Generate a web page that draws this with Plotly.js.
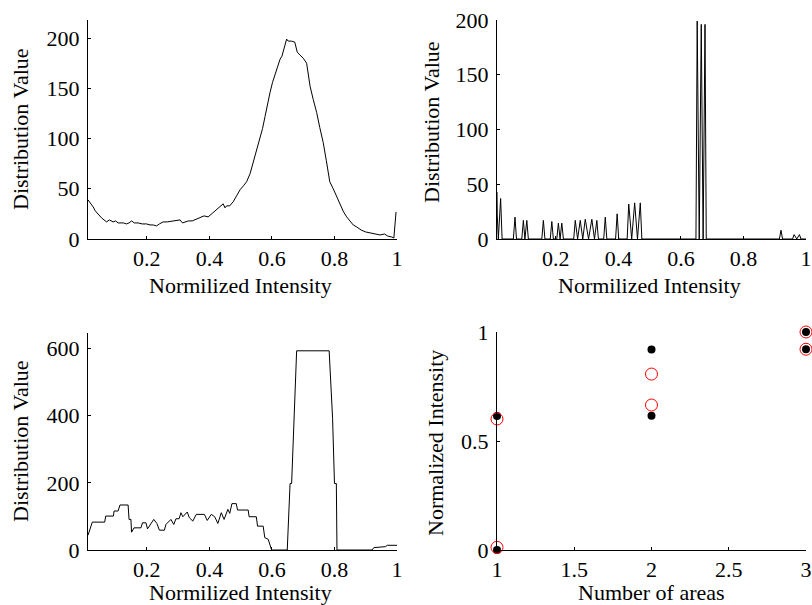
<!DOCTYPE html>
<html>
<head>
<meta charset="utf-8">
<script src="https://cdn.plot.ly/plotly-3.0.1.min.js"></script>
<style>html,body{margin:0;padding:0;background:#fff;}#chart{width:812px;height:605px;}</style>
</head>
<body>
<div id="chart"></div>
<script>
// ---- Panel 1 (top-left): smooth distribution ----
const x1 = [0.0117,0.02,0.028,0.035,0.045,0.055,0.063,0.071,0.08,0.092,0.1,0.108,0.114,0.125,0.135,0.143,0.151,0.16,0.172,0.185,0.199,0.21,0.22,0.231,0.24,0.252,0.265,0.28,0.295,0.306,0.314,0.321,0.333,0.345,0.359,0.37,0.383,0.396,0.41,0.423,0.434,0.444,0.45,0.455,0.465,0.476,0.487,0.498,0.509,0.519,0.53,0.54,0.551,0.562,0.57,0.578,0.586,0.594,0.602,0.61,0.618,0.626,0.632,0.636,0.642,0.647,0.652,0.662,0.673,0.678,0.681,0.69,0.7,0.711,0.716,0.722,0.732,0.743,0.753,0.764,0.774,0.785,0.796,0.807,0.818,0.829,0.839,0.85,0.86,0.871,0.885,0.9,0.914,0.93,0.946,0.96,0.97,0.983,0.99,0.997];
const y1 = [39,36,32,28,24,21,19,17,19,17,18,16,16,16,15,16,18,16,16,15,15,14,14,13,15,17,17,18,19,19,16,17,18,18,20,21,23,22,26,29,32,35,31,33,33,37,43,49,53,57,65,76,88,99,110,122,135,146,156,164,172,179,182,186,193,199,197,197,196,190,186,183,180,175,162,152,139,126,111,96,78,57,50,42,34,27,22,18,14,12,9,7,6,5,4,5,3,2,1,27];

// ---- Panel 2 (top-right): spiky distribution ----
const x2 = [0.0117,0.0125,0.016,0.0233,0.028,0.064,0.0693,0.074,0.091,0.096,0.101,0.107,0.112,0.117,0.155,0.160,0.165,0.182,0.187,0.192,0.203,0.208,0.2135,0.219,0.224,0.257,0.262,0.2695,0.278,0.286,0.294,0.3045,0.315,0.3235,0.331,0.336,0.353,0.358,0.363,0.391,0.396,0.401,0.428,0.433,0.4425,0.452,0.461,0.470,0.475,0.648,0.652,0.6585,0.665,0.671,0.677,0.681,0.915,0.920,0.925,0.957,0.962,0.9705,0.979,0.984,1.0];
const y2 = [43,22,0,37,0,0,20,0,0,17,0,17,0,0,0,17,0,0,16,0,0,14.5,0,14.5,0,0,17,0,17,0,18,0,18,0,17,0,0,20,0,0,23,0,0,32,0,33,0,33,0,0,199,0,196,0,196,0,0,8,0,0,4,0,4,0,0];

// ---- Panel 3 (bottom-left): step distribution ----
const x3 = [0.0117,0.0255,0.0651,0.0683,0.093,0.0951,0.108,0.114,0.140,0.143,0.149,0.151,0.159,0.181,0.186,0.197,0.202,0.213,0.222,0.232,0.240,0.256,0.261,0.277,0.286,0.293,0.303,0.309,0.315,0.329,0.336,0.347,0.358,0.384,0.393,0.406,0.417,0.427,0.438,0.447,0.459,0.465,0.472,0.486,0.490,0.524,0.527,0.550,0.554,0.572,0.577,0.588,0.599,0.649,0.658,0.663,0.671,0.679,0.783,0.794,0.800,0.806,0.808,0.920,0.926,0.963,0.969,1.0];
const y3 = [44,83,83,101,101,116,116,134,134,91,91,53,66,66,81,81,63,79,91,79,59,59,76,91,76,93,93,111,99,113,96,86,106,106,88,106,99,79,111,91,121,109,138,138,119,119,99,99,71,71,37,32,0,0,198,198,392,593,593,392,198,198,0,0,7,10,14,14];

// ---- Panel 4 (bottom-right): intensities vs number of areas ----
const areasBlack = [1,1,2,2,3,3];
const intenBlack = [0,0.615,0.92,0.616,1.0,0.921];
const areasRed = [1,1,2,2,3,3];
const intenRed = [0.012,0.601,0.807,0.665,1.0,0.921];

const xTicks1 = [0.2,0.4,0.6,0.8,1];
const xTickText1 = ['0.2','0.4','0.6','0.8','1'];
const yTicks1 = [0,50,100,150,200];
const yTicks3 = [0,200,400,600];
const xTicks4 = [1,1.5,2,2.5,3];
const xTickText4 = ['1','1.5','2','2.5','3'];
const yTicks4 = [0,0.5,1];
const yTickText4 = ['0','0.5','1'];

const FONT = 'Liberation Serif, Times New Roman, serif';
const W = 812, H = 605;
const px = v => v / W;
const py = v => 1 - v / H;

function axisBase(extra) {
  return Object.assign({
    showline: true, linecolor: '#000', linewidth: 1,
    showgrid: false, zeroline: false,
    ticks: 'inside', ticklen: 3, tickwidth: 1, tickcolor: '#000',
    tickfont: {family: FONT, size: 22, color: '#000'},
    automargin: false, fixedrange: true
  }, extra);
}
function yAxis(extra) {
  return axisBase(Object.assign({ticklabelstandoff: 3}, extra));
}

const lineStyle = {color: '#000', width: 1};

const traces = [
  {x: x1, y: y1, type: 'scatter', mode: 'lines', line: lineStyle, xaxis: 'x', yaxis: 'y', hoverinfo: 'none'},
  {x: x2, y: y2, type: 'scatter', mode: 'lines', line: lineStyle, xaxis: 'x2', yaxis: 'y2', hoverinfo: 'none'},
  {x: x3, y: y3, type: 'scatter', mode: 'lines', line: lineStyle, xaxis: 'x3', yaxis: 'y3', hoverinfo: 'none'},
  {x: areasBlack, y: intenBlack, type: 'scatter', mode: 'markers', marker: {color: '#000', size: 8, symbol: 'circle'}, xaxis: 'x4', yaxis: 'y4', cliponaxis: false, hoverinfo: 'none'},
  {x: areasRed, y: intenRed, type: 'scatter', mode: 'markers', marker: {color: 'red', size: 12, symbol: 'circle-open', line: {color: 'red', width: 1}}, xaxis: 'x4', yaxis: 'y4', cliponaxis: false, hoverinfo: 'none'}
];

const yTop1 = 218, yTop3 = 646;

const layout = {
  width: W, height: H,
  margin: {l: 0, r: 0, t: 0, b: 0, pad: 0},
  paper_bgcolor: '#fff', plot_bgcolor: '#fff',
  showlegend: false,
  font: {family: FONT, size: 22, color: '#000'},
  xaxis: axisBase({domain: [px(88), px(397)], range: [0.0117, 1], tickvals: xTicks1, ticktext: xTickText1, anchor: 'y'}),
  yaxis: yAxis({domain: [py(239), py(20)], range: [0, yTop1], tickvals: yTicks1.concat([yTop1]), ticktext: yTicks1.map(String).concat(['']), anchor: 'x'}),
  xaxis2: axisBase({domain: [px(497), px(806)], range: [0.0117, 1], tickvals: xTicks1, ticktext: xTickText1, anchor: 'y2'}),
  yaxis2: yAxis({domain: [py(239), py(20)], range: [0, 200], tickvals: yTicks1, ticktext: yTicks1.map(String), anchor: 'x2'}),
  xaxis3: axisBase({domain: [px(88), px(397)], range: [0.0117, 1], tickvals: xTicks1, ticktext: xTickText1, anchor: 'y3'}),
  yaxis3: yAxis({domain: [py(550), py(333)], range: [0, yTop3], tickvals: yTicks3.concat([yTop3]), ticktext: yTicks3.map(String).concat(['']), anchor: 'x3'}),
  xaxis4: axisBase({domain: [px(497), px(806)], range: [1, 3], tickvals: xTicks4, ticktext: xTickText4, anchor: 'y4'}),
  yaxis4: yAxis({domain: [py(550), py(332)], range: [0, 1], tickvals: yTicks4, ticktext: yTickText4, anchor: 'x4'}),
  annotations: [
    {text: 'Distribution Value', x: px(20), y: py(129), xref: 'paper', yref: 'paper', textangle: -90, showarrow: false, xanchor: 'center', yanchor: 'middle', font: {family: FONT, size: 22}},
    {text: 'Normilized Intensity', x: px(240), y: py(285), xref: 'paper', yref: 'paper', showarrow: false, xanchor: 'center', yanchor: 'middle', font: {family: FONT, size: 22}},
    {text: 'Distribution Value', x: px(431), y: py(122), xref: 'paper', yref: 'paper', textangle: -90, showarrow: false, xanchor: 'center', yanchor: 'middle', font: {family: FONT, size: 22}},
    {text: 'Normilized Intensity', x: px(649), y: py(286), xref: 'paper', yref: 'paper', showarrow: false, xanchor: 'center', yanchor: 'middle', font: {family: FONT, size: 22}},
    {text: 'Distribution Value', x: px(20), y: py(441), xref: 'paper', yref: 'paper', textangle: -90, showarrow: false, xanchor: 'center', yanchor: 'middle', font: {family: FONT, size: 22}},
    {text: 'Normilized Intensity', x: px(240), y: py(592), xref: 'paper', yref: 'paper', showarrow: false, xanchor: 'center', yanchor: 'middle', font: {family: FONT, size: 22}},
    {text: 'Normalized Intensity', x: px(435), y: py(443), xref: 'paper', yref: 'paper', textangle: -90, showarrow: false, xanchor: 'center', yanchor: 'middle', font: {family: FONT, size: 22}},
    {text: 'Number of areas', x: px(651), y: py(592), xref: 'paper', yref: 'paper', showarrow: false, xanchor: 'center', yanchor: 'middle', font: {family: FONT, size: 22}}
  ]
};

Plotly.newPlot('chart', traces, layout, {staticPlot: true, displayModeBar: false});
</script>
</body>
</html>
